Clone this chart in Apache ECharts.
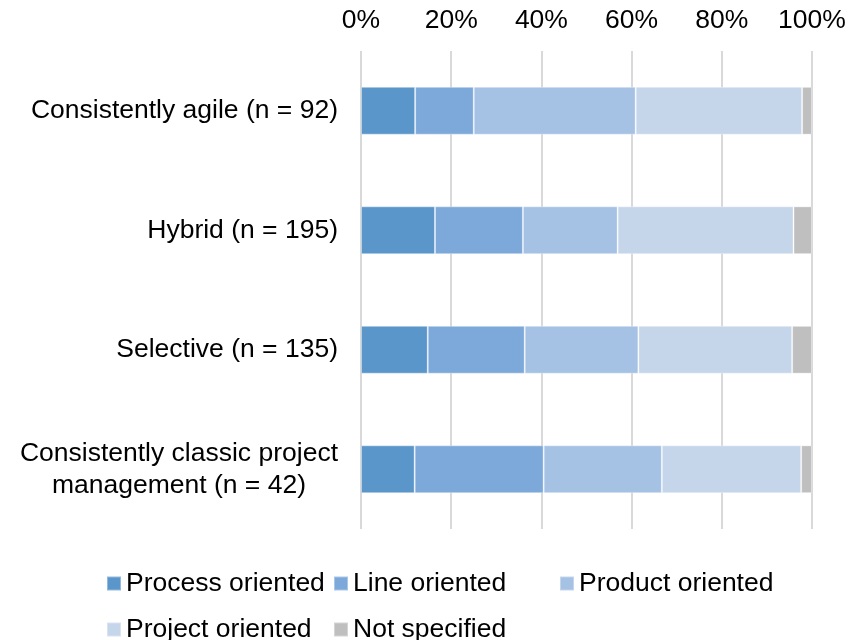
<!DOCTYPE html>
<html>
<head>
<meta charset="utf-8">
<script src="https://cdn.jsdelivr.net/npm/echarts@6/dist/echarts.min.js"></script>
<style>
html,body{margin:0;padding:0;background:#fff;}
#chart{width:858px;height:640px;}
</style>
</head>
<body>
<div id="chart"></div>
<script>
const categories = [
  "Consistently agile (n = 92)",
  "Hybrid (n = 195)",
  "Selective (n = 135)",
  "Consistently classic project\nmanagement (n = 42)"
];
const seriesNames = ["Process oriented", "Line oriented", "Product oriented", "Project oriented", "Not specified"];
const processOriented = [12.0, 16.4, 14.8, 11.9];
const lineOriented    = [13.0, 19.5, 21.5, 28.6];
const productOriented = [35.9, 21.0, 25.2, 26.2];
const projectOriented = [36.9, 39.0, 34.1, 30.9];
const notSpecified    = [2.2, 4.1, 4.4, 2.4];
const xTicks = [0, 20, 40, 60, 80, 100];

const seriesValues = [processOriented, lineOriented, productOriented, projectOriented, notSpecified];
const colors = ["#5A96CA", "#7CA9DA", "#A5C1E4", "#C5D5EA", "#BFBFBF"];
const FONT = "'Liberation Sans', Arial, sans-serif";
const FS = 26.5;

const legendPos = [
  {left: 106, top: 570},
  {left: 333, top: 570},
  {left: 559, top: 570},
  {left: 106, top: 616},
  {left: 333, top: 616}
];

const chart = echarts.init(document.getElementById('chart'), null, {renderer: 'canvas'});
chart.setOption({
  animation: false,
  color: colors,
  grid: {left: 361, right: 46, top: 51, bottom: 111, containLabel: false},
  legend: seriesNames.map((n, i) => ({
    data: [n],
    left: legendPos[i].left,
    top: legendPos[i].top,
    padding: 0,
    icon: 'rect',
    itemWidth: 14,
    itemHeight: 14,
    itemGap: 0,
    selectedMode: false,
    textStyle: {fontFamily: FONT, fontSize: FS, color: '#000'}
  })),
  xAxis: {
    type: 'value',
    position: 'top',
    min: xTicks[0],
    max: xTicks[xTicks.length - 1],
    interval: xTicks[1] - xTicks[0],
    axisLine: {show: false},
    axisTick: {show: false},
    axisLabel: {formatter: '{value}%', fontFamily: FONT, fontSize: FS, color: '#000', margin: 17},
    splitLine: {show: true, lineStyle: {color: '#D9D9D9', width: 2}}
  },
  yAxis: {
    type: 'category',
    inverse: true,
    data: categories,
    axisLine: {show: false},
    axisTick: {show: false},
    axisLabel: {
      margin: 23,
      color: '#000',
      fontFamily: FONT,
      fontSize: FS,
      formatter: v => v.split('\n').map(s => '{c|' + s + '}').join('\n'),
      rich: {c: {align: 'center', fontFamily: FONT, fontSize: FS, color: '#000', lineHeight: 32}}
    }
  },
  series: seriesNames.map((n, i) => ({
    name: n,
    type: 'bar',
    stack: 'total',
    barWidth: '40%',
    data: seriesValues[i],
    itemStyle: {color: colors[i], borderColor: 'rgba(255,255,255,0.35)', borderWidth: 1}
  }))
});
</script>
</body>
</html>
